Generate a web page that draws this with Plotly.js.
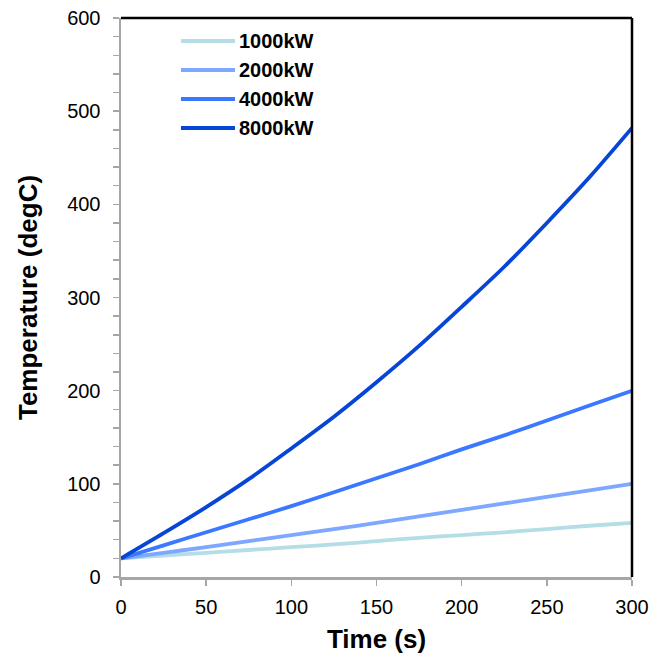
<!DOCTYPE html>
<html>
<head>
<meta charset="utf-8">
<script src="https://cdn.plot.ly/plotly-3.0.1.min.js"></script>
<style>
html,body{margin:0;padding:0;background:#fff;}
#chart{width:665px;height:661px;}
</style>
</head>
<body>
<div id="chart"></div>
<script>
var time = [0, 25, 50, 75, 100, 125, 150, 175, 200, 225, 250, 275, 300];
var seriesNames = ["1000kW", "2000kW", "4000kW", "8000kW"];
var temp1000 = [20, 23, 26, 29, 32, 35, 38.5, 42, 45, 48, 51.5, 55, 58];
var temp2000 = [20, 26, 32, 38.5, 45, 51.5, 58, 65, 72, 79, 86, 93, 100];
var temp4000 = [20, 34, 48, 62, 76, 91, 106, 121, 137, 152, 168, 184, 200];
var temp8000 = [20, 47, 75, 105, 138, 172, 209, 248, 290, 333, 380, 429, 482];
var colors = ["#b4dde6", "#7ea8ff", "#3a78ff", "#0645d6"];

var FONT = "'Liberation Sans', Arial, sans-serif";
var series = [temp1000, temp2000, temp4000, temp8000];

var traces = series.map(function (s, i) {
  return {
    x: time, y: s, name: seriesNames[i], type: "scatter", mode: "lines",
    line: {color: colors[i], width: 3.8, shape: "spline", smoothing: 0.8},
    showlegend: false, hoverinfo: "skip"
  };
});

var shapes = [
  {type: "line", xref: "paper", yref: "paper", x0: 0, x1: 1, y0: 1, y1: 1, line: {color: "#000", width: 2.5}},
  {type: "line", xref: "paper", yref: "paper", x0: 1, x1: 1, y0: 0, y1: 1, line: {color: "#000", width: 2.5}}
];
var annotations = [];
var plotL = 121, plotT = 18, plotW = 511, plotH = 559;
var rowY = [41, 70, 99, 128];
seriesNames.forEach(function (n, i) {
  var yp = 1 - (rowY[i] - plotT) / plotH;
  shapes.push({type: "line", xref: "paper", yref: "paper",
    x0: (181 - plotL) / plotW, x1: (235 - plotL) / plotW, y0: yp, y1: yp,
    line: {color: colors[i], width: 4}});
  annotations.push({xref: "paper", yref: "paper", x: (237 - plotL) / plotW, y: yp,
    xanchor: "left", yanchor: "middle", text: "<b>" + n + "</b>", showarrow: false,
    font: {family: FONT, size: 20, color: "#000"}});
});

var layout = {
  width: 665, height: 661,
  margin: {l: 121, r: 33, t: 18, b: 84},
  paper_bgcolor: "#fff", plot_bgcolor: "#fff",
  showlegend: false,
  font: {family: FONT, color: "#000"},
  xaxis: {
    range: [0, 300], dtick: 50, tick0: 0,
    showgrid: false, zeroline: false,
    showline: true, linecolor: "#a6a6a6", linewidth: 2.5,
    ticks: "outside", ticklen: 6, tickwidth: 1.5, tickcolor: "#a6a6a6",
    ticklabelstandoff: 4,
    tickfont: {family: FONT, size: 20, color: "#000"},
    title: {text: "<b>Time (s)</b>", font: {family: FONT, size: 26, color: "#000"}, standoff: 14}
  },
  yaxis: {
    range: [0, 600], dtick: 100, tick0: 0,
    showgrid: false, zeroline: false,
    showline: true, linecolor: "#a6a6a6", linewidth: 2.5,
    ticks: "outside", ticklen: 6, tickwidth: 1.5, tickcolor: "#a6a6a6",
    minor: {dtick: 20, ticks: "outside", ticklen: 6, tickwidth: 1.5, tickcolor: "#a6a6a6", showgrid: false},
    ticklabelstandoff: 8,
    tickfont: {family: FONT, size: 20, color: "#000"},
    title: {text: "<b>Temperature (degC)</b>", font: {family: FONT, size: 26, color: "#000"}, standoff: 22}
  },
  shapes: shapes,
  annotations: annotations
};

Plotly.newPlot("chart", traces, layout, {displayModeBar: false, staticPlot: true});
</script>
</body>
</html>
